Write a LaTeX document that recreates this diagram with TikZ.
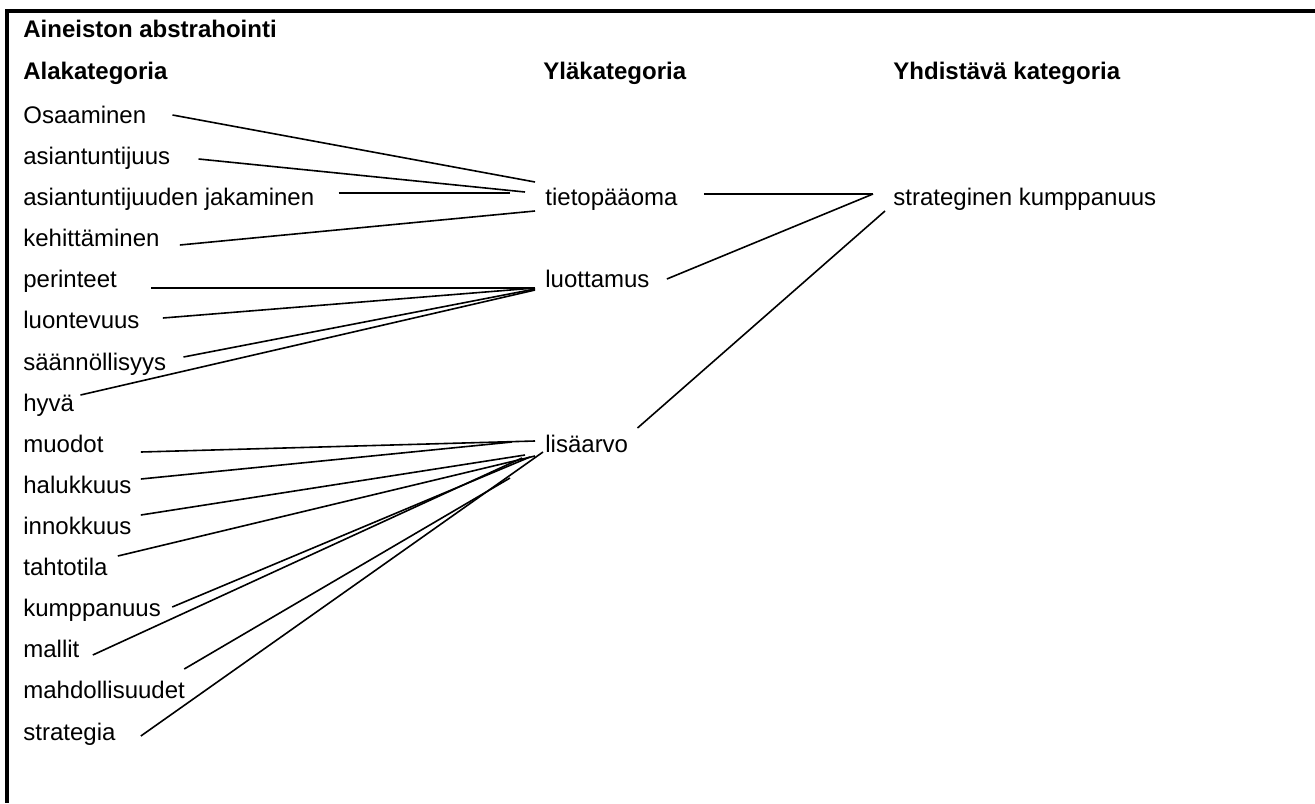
\documentclass[tikz,border=0pt]{standalone}
\usepackage{fontspec}
\setmainfont{Liberation Sans}
\usetikzlibrary{positioning}

\begin{document}
\begin{tikzpicture}[
        x=0.5pt, y=-0.5pt,
        font=\fontsize{12}{14.4}\selectfont,
        % Text- und Linienstile
        item/.style={anchor=base west, inner sep=0pt},
        link/.style={draw=black, line width=0.8pt},
        frame/.style={draw=black, line width=1.8pt}
    ]

    \useasboundingbox (0,0) rectangle (1315,803);

    % ==========================================
    % 1. RAHMEN UND UEBERSCHRIFTEN
    % ==========================================
    \draw[frame] (1315,11) -| (7,803);

    \node[item] (title)  at (23, 37)  {\textbf{Aineiston abstrahointi}};
    \node[item] (alakat) at (23, 79)  {\textbf{Alakategoria}};
    \node[item] (ylakat) at (543, 79) {\textbf{Yläkategoria}};
    \node[item] (yhdkat) at (893, 79) {\textbf{Yhdistävä kategoria}};

    % ==========================================
    % 2. KATEGORIEN
    % ==========================================

    % Alakategoriat (links)
    \node[item] (osaaminen)      at (23, 123) {Osaaminen};
    \node[item] (asiantuntijuus) at (23, 164) {asiantuntijuus};
    \node[item] (jakaminen)      at (23, 205) {asiantuntijuuden jakaminen};
    \node[item] (kehittaminen)   at (23, 246) {kehittäminen};
    \node[item] (perinteet)      at (23, 287) {perinteet};
    \node[item] (luontevuus)     at (23, 328) {luontevuus};
    \node[item] (saannollisyys)  at (23, 370) {säännöllisyys};
    \node[item] (hyva)           at (23, 411) {hyvä};
    \node[item] (muodot)         at (23, 452) {muodot};
    \node[item] (halukkuus)      at (23, 493) {halukkuus};
    \node[item] (innokkuus)      at (23, 534) {innokkuus};
    \node[item] (tahtotila)      at (23, 575) {tahtotila};
    \node[item] (kumppanuus)     at (23, 616) {kumppanuus};
    \node[item] (mallit)         at (23, 657) {mallit};
    \node[item] (mahdollisuudet) at (23, 698) {mahdollisuudet};
    \node[item] (strategia)      at (23, 740) {strategia};

    % Yläkategoriat (Mitte)
    \node[item] (tieto)     at (545, 205) {tietopääoma};
    \node[item] (luottamus) at (545, 287) {luottamus};
    \node[item] (lisaarvo)  at (545, 452) {lisäarvo};

    % Yhdistävä kategoria (rechts)
    \node[item] (strateginen) at (893, 205) {strateginen kumppanuus};

    % ==========================================
    % 3. VERBINDUNGEN
    % ==========================================

    % --- zu tietopääoma ---
    \draw[link] ([shift={(26,-8)}]osaaminen.base east)      -- ([shift={(-10,-23)}]tieto.base west);
    \draw[link] ([shift={(28,-5)}]asiantuntijuus.base east) -- ([shift={(-20,-13)}]tieto.base west);
    \draw[link] ([shift={(24,-12)}]jakaminen.base east)     -- ([shift={(-35,-12)}]tieto.base west);
    \draw[link] ([shift={(20,-1)}]kehittaminen.base east)   -- ([shift={(-10,6)}]tieto.base west);

    % --- zu luottamus ---
    \draw[link] ([shift={(34,1)}]perinteet.base east)       -- ([shift={(-10,1)}]luottamus.base west);
    \draw[link] ([shift={(23,-10)}]luontevuus.base east)    -- ([shift={(-10,1)}]luottamus.base west);
    \draw[link] ([shift={(17,-13)}]saannollisyys.base east) -- ([shift={(-10,2)}]luottamus.base west);
    \draw[link] ([shift={(6,-16)}]hyva.base east)           -- ([shift={(-10,3)}]luottamus.base west);

    % --- zu lisäarvo ---
    \draw[link] ([shift={(37,0)}]muodot.base east)          -- ([shift={(-10,-11)}]lisaarvo.base west);
    \draw[link] ([shift={(9,-14)}]halukkuus.base east)      -- ([shift={(-33,-10)}]lisaarvo.base west);
    \draw[link] ([shift={(9,-19)}]innokkuus.base east)      -- ([shift={(-20,3)}]lisaarvo.base west);
    \draw[link] ([shift={(10,-19)}]tahtotila.base east)     -- ([shift={(-10,4)}]lisaarvo.base west);
    \draw[link] ([shift={(11,-9)}]kumppanuus.base east)     -- ([shift={(-15,5)}]lisaarvo.base west);
    \draw[link] ([shift={(13,-2)}]mallit.base east)         -- ([shift={(-23,6)}]lisaarvo.base west);
    \draw[link] ([shift={(-1,-29)}]mahdollisuudet.base east) -- ([shift={(-35,26)}]lisaarvo.base west);
    \draw[link] ([shift={(25,-4)}]strategia.base east)      -- ([shift={(-2,0)}]lisaarvo.base west);

    % --- zu strateginen kumppanuus ---
    \draw[link] ([shift={(26,-11)}]tieto.base east)    -- ([shift={(-20,-11)}]strateginen.base west);
    \draw[link] ([shift={(17,-8)}]luottamus.base east) -- ([shift={(-20,-11)}]strateginen.base west);
    \draw[link] ([shift={(9,-24)}]lisaarvo.base east)  -- ([shift={(-8,6)}]strateginen.base west);

\end{tikzpicture}
\end{document}
